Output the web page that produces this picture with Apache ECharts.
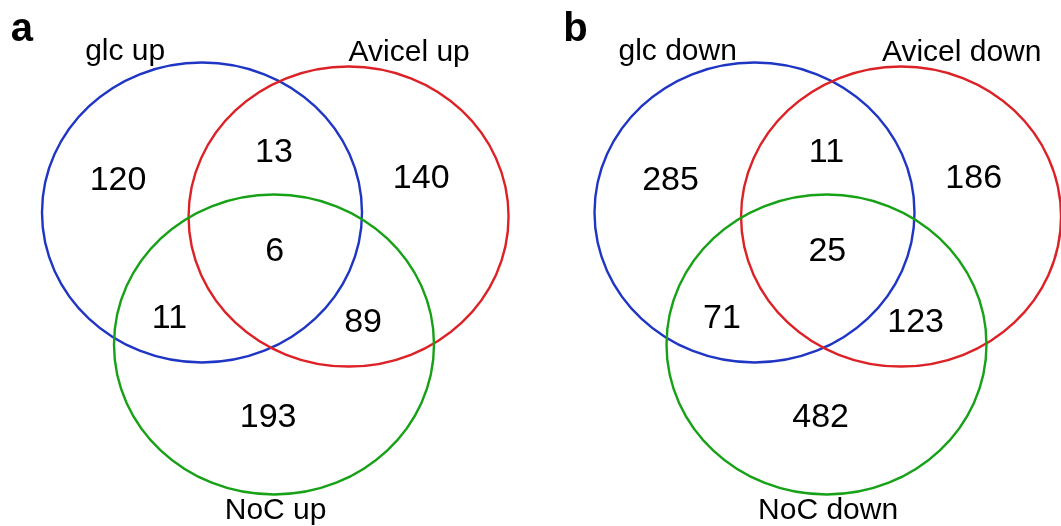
<!DOCTYPE html>
<html>
<head>
<meta charset="utf-8">
<title>Venn diagrams: up- and down-regulated genes</title>
<script src="https://cdn.jsdelivr.net/npm/echarts@6/dist/echarts.min.js"></script>
<style>
  html, body { margin: 0; padding: 0; background: #ffffff; }
  #chart { width: 1061px; height: 526px; }
</style>
</head>
<body>
<div id="chart"></div>
<script>
// ---- data -------------------------------------------------------------
const panelLetters = ['a', 'b'];
const setNamesUp = ['glc up', 'Avicel up', 'NoC up'];
const setNamesDown = ['glc down', 'Avicel down', 'NoC down'];
// region order: glc only, glc∩Avicel, Avicel only, all three, glc∩NoC, Avicel∩NoC, NoC only
const regionKeys = ['A', 'AB', 'B', 'ABC', 'AC', 'BC', 'C'];
const countsUp = [120, 13, 140, 6, 11, 89, 193];
const countsDown = [285, 11, 186, 25, 71, 123, 482];

// ---- layout (unit space: one unit = one set radius) --------------------
const circleCenters = [[-0.45, 0.88], [0.466, 0.853], [0, 0]];
const regionAnchors = {
  A: [-0.975, 1.093], AB: [0, 1.28], B: [0.92, 1.107], ABC: [0.005, 0.62],
  AC: [-0.653, 0.173], BC: [0.557, 0.147], C: [-0.037, -0.487]
};
const setLabelAnchors = [[-0.93, 1.95], [0.845, 1.943], [0.01, -1.107]];
const letterAnchor = [-1.645, 2.10];
const setColors = ['#1f36c4', '#dc2226', '#17a117'];
const FONT = '"Liberation Sans", Arial, Helvetica, sans-serif';

const panels = [
  { letter: panelLetters[0], names: setNamesUp, counts: countsUp, left: 18 },
  { letter: panelLetters[1], names: setNamesDown, counts: countsDown, left: 570.5 }
];

function textSeries(i, data, label) {
  return {
    type: 'scatter',
    xAxisIndex: i, yAxisIndex: i,
    symbolSize: 0,
    silent: true,
    clip: false,
    itemStyle: { opacity: 1 },
    data: data,
    label: Object.assign({ show: true, color: '#000000', fontFamily: FONT }, label)
  };
}

const grid = [], xAxis = [], yAxis = [], series = [];
panels.forEach(function (p, i) {
  grid.push({ left: p.left, top: 14.5, width: 480, height: 510, containLabel: false });
  xAxis.push({ type: 'value', gridIndex: i, min: -1.6, max: 1.4, show: false });
  yAxis.push({ type: 'value', gridIndex: i, min: -1.2, max: 2.2, show: false });

  // set outlines
  series.push({
    type: 'custom',
    xAxisIndex: i, yAxisIndex: i,
    clip: false,
    silent: true,
    data: circleCenters.map(function (c, k) { return [c[0], c[1], k]; }),
    renderItem: function (params, api) {
      const c = api.coord([api.value(0), api.value(1)]);
      const s = api.size([1, 1]);
      return {
        type: 'ellipse',
        shape: { cx: c[0], cy: c[1], rx: s[0], ry: s[1] },
        style: { fill: 'none', stroke: setColors[api.value(2)], lineWidth: 2.4 }
      };
    }
  });

  // region counts
  series.push(textSeries(i,
    regionKeys.map(function (key, k) {
      return [regionAnchors[key][0], regionAnchors[key][1], p.counts[k]];
    }),
    { position: 'inside', fontSize: 34,
      formatter: function (d) { return String(d.value[2]); } }));

  // set names
  series.push(textSeries(i,
    p.names.map(function (name, k) { return { value: setLabelAnchors[k], name: name }; }),
    { position: 'inside', fontSize: 30, formatter: '{b}' }));

  // panel letter
  series.push(textSeries(i,
    [{ value: letterAnchor, name: p.letter }],
    { position: 'right', distance: 0, fontSize: 40, fontWeight: 'bold', formatter: '{b}' }));
});

const chart = echarts.init(document.getElementById('chart'), null, { renderer: 'canvas' });
chart.setOption({
  backgroundColor: '#ffffff',
  animation: false,
  grid: grid,
  xAxis: xAxis,
  yAxis: yAxis,
  series: series
});
</script>
</body>
</html>
